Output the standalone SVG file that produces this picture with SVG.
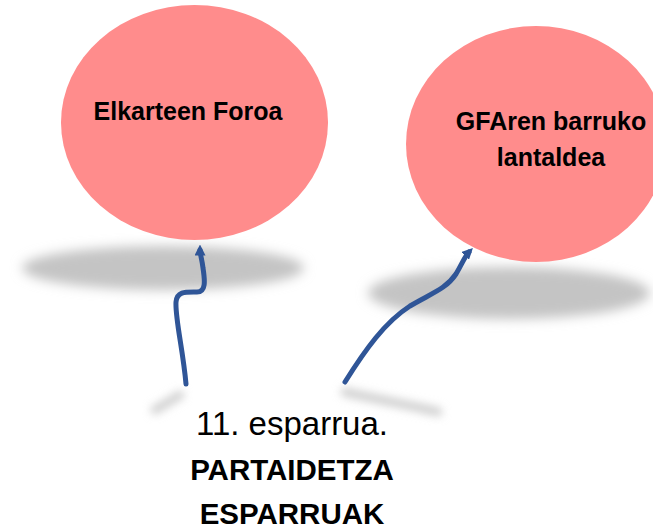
<svg xmlns="http://www.w3.org/2000/svg" width="653" height="531" viewBox="0 0 653 531">
  <defs>
    <filter id="blur" x="-20%" y="-80%" width="140%" height="260%">
      <feGaussianBlur stdDeviation="6"/>
    </filter>
    <filter id="blurS" x="-50%" y="-100%" width="200%" height="300%">
      <feGaussianBlur stdDeviation="4"/>
    </filter>
    <marker id="tip" viewBox="0 0 10 10" refX="5" refY="5" markerWidth="2.2" markerHeight="2.2" orient="auto">
      <path d="M0,0 L10,5 L0,10 z" fill="#2F5597"/>
    </marker>
  </defs>
  <style>
    .balloon { fill: #FF8C8C; }
    .shadow { fill: #C4C4C4; filter: url(#blur); }
    .sshadow { stroke: #D0D0D0; stroke-width: 9; fill: none; stroke-linecap: round; filter: url(#blurS); }
    .bl { font-family: "Liberation Sans", Arial, sans-serif; font-weight: bold; font-size: 25px; fill: #000; text-anchor: middle; }
    .t { font-family: "Liberation Sans", Arial, sans-serif; fill: #000; text-anchor: middle; }
    .string { fill: none; stroke: #2F5597; stroke-width: 5; stroke-linecap: round; stroke-linejoin: round; }
  </style>

  <g id="shadows">
    <ellipse class="shadow" cx="163" cy="268" rx="141" ry="22"/>
    <ellipse class="shadow" cx="509" cy="293" rx="141" ry="26"/>
    <path class="sshadow" d="M180,395 L155,410"/>
    <path class="sshadow" d="M345,392 C380,400 410,405 438,412"/>
  </g>

  <g id="node-elkarteen">
    <ellipse class="balloon" cx="194.5" cy="122.5" rx="133.5" ry="117.5"/>
    <text class="bl" x="188" y="120">Elkarteen Foroa</text>
  </g>

  <g id="node-gfaren">
    <ellipse class="balloon" cx="536" cy="144" rx="130" ry="118"/>
    <text class="bl" x="551" y="130">GFAren barruko</text>
    <text class="bl" x="551" y="166">lantaldea</text>
  </g>

  <g id="connectors">
    <path class="string" marker-end="url(#tip)" d="M186,384 C183,350 175,318 176,302 C177,291 186,292 197,292 C206,292 205,281 203,268 C202,259 200,254 200,250"/>
    <path class="string" marker-end="url(#tip)" d="M345,382 C365,350 385,322 410,306 C432,293 446,289 456,274 C462,264 465,256 469,252"/>
  </g>

  <g id="label">
    <text class="t" x="292" y="435" font-size="33">11. esparrua.</text>
    <text class="t" x="292" y="480" font-size="29.5" font-weight="bold">PARTAIDETZA</text>
    <text class="t" x="292" y="524" font-size="29.5" font-weight="bold">ESPARRUAK</text>
  </g>
</svg>
